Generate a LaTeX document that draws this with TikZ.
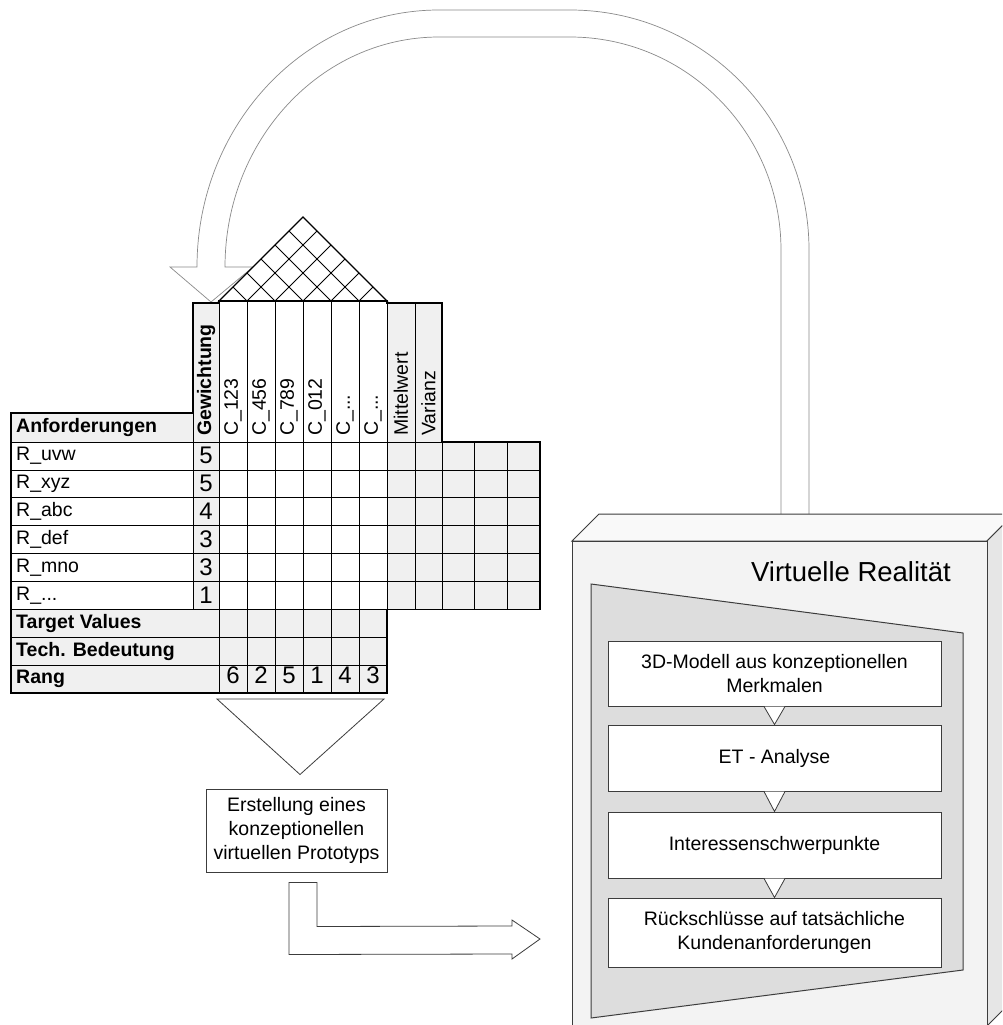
\documentclass[tikz,border=0pt]{standalone}
\usepackage{fontspec}
\setmainfont{Liberation Sans}
\usetikzlibrary{calc}
\definecolor{cellgrey}{HTML}{F0F0F0}
\definecolor{arrowline}{HTML}{8A8A8A}
\definecolor{boxfront}{HTML}{F3F3F3}
\definecolor{boxtop}{HTML}{F9F9F9}
\definecolor{boxside}{HTML}{E6E6E6}
\definecolor{panelgrey}{HTML}{DDDDDD}
\definecolor{edgegrey}{HTML}{3C3C3C}
\newcommand{\tripledot}{...}
\begin{document}
\begin{tikzpicture}[x=1pt,y=-1pt,
  every node/.style={font=\fontsize{19.5}{24}\selectfont, inner sep=0pt},
  thin grid/.style={draw=black, line width=0.8pt},
  thick frame/.style={draw=black, line width=1.4pt},
  greycell/.style={fill=cellgrey},
  blockarrow/.style={draw=arrowline, line width=0.7pt, fill=white},
  flatarrow/.style={draw=edgegrey, line width=0.8pt, fill=white},
  hdr/.style={rotate=90, anchor=west},
  lbl/.style={anchor=west},
  boldlbl/.style={anchor=west, font=\fontsize{19.5}{24}\selectfont\bfseries},
  digit/.style={anchor=base, font=\fontsize{24}{28}\selectfont},
  stepbox/.style={draw=edgegrey, line width=1pt, fill=white, minimum width=333pt, align=center},
  notch/.style={fill=white},
  notchline/.style={draw=edgegrey, line width=0.8pt}]

% canvas
\useasboundingbox (0,0) rectangle (1002,1025);
\clip (0,0) rectangle (1002,1025);
\fill[white] (0,0) rectangle (1002,1025);

% ---------- curved return arrow ----------
\path[blockarrow]
  (197,267) .. controls (197,125) and (305,10) .. (439,10)
  -- (570,10) .. controls (702,10) and (809,117) .. (809,250)
  -- (809,522) -- (781,522) -- (781,250)
  .. controls (781,132) and (686,37) .. (570,37)
  -- (439,37) .. controls (321,37) and (225,140) .. (225,267)
  -- (253,267) -- (211,302) -- (170,267) -- cycle;

% ---------- house of quality ----------
% cell fills
\fill[greycell] (11,413) rectangle (193,442);
\fill[white] (11,442) rectangle (193,609.4);
\fill[greycell] (193,303) rectangle (219,609.4);
\fill[white] (219,301) rectangle (387,609.4);
\fill[greycell] (11,609.4) rectangle (387,693);
\fill[greycell] (387,303) rectangle (442,609.4);
\fill[greycell] (442,442) rectangle (540,609.4);

% roof
\filldraw[fill=white, draw=black, line width=1.2pt] (219,301) -- (303,217) -- (387,301) -- cycle;
\foreach \i in {1,...,5}{
  \pgfmathsetmacro{\b}{219+28*\i}
  \draw[thin grid] ({(219+\b)/2},{301-(\b-219)/2}) -- (\b,301) -- ({(\b+387)/2},{301-(387-\b)/2});
}

% horizontal rules
\foreach \k in {0,...,5}{
  \pgfmathsetmacro{\yy}{442+27.9*\k}
  \draw[thin grid] (11,\yy) -- (540,\yy);
}
\draw[thin grid] (11,609.4) -- (540,609.4);
\draw[thin grid] (11,637.3) -- (387,637.3);
\draw[thin grid] (11,665.2) -- (387,665.2);
\draw[thin grid] (193,303) -- (219,303);
\draw[thin grid] (219,301) -- (387,301);
\draw[thin grid] (387,303) -- (442,303);

% vertical rules
\draw[thin grid] (193,303) -- (193,609.4);
\foreach \xx in {219,247,275,303,331,359,387}{
  \draw[thin grid] (\xx,301) -- (\xx,693);
}
\draw[thin grid] (415,303) -- (415,609.4);
\draw[thin grid] (442,303) -- (442,609.4);
\draw[thin grid] (474.7,442) -- (474.7,609.4);
\draw[thin grid] (507.3,442) -- (507.3,609.4);

% outline
\draw[thick frame] (11,413) -- (193,413) -- (193,303) -- (219,303) -- (219,301)
  -- (387,301) -- (387,303) -- (442,303) -- (442,442) -- (540,442)
  -- (540,609.4) -- (387,609.4) -- (387,693) -- (11,693) -- cycle;

% column headings
\node[hdr, font=\fontsize{19.5}{24}\selectfont\bfseries] (hgew) at (206,436) {Gewichtung};
\foreach \t [count=\c from 0] in {C\_123,C\_456,C\_789,C\_012,C\_\tripledot,C\_\tripledot}{
  \node[hdr] (hc\c) at ({233+28*\c},436) {\t};
}
\node[hdr] (hmit) at (401,436) {Mittelwert};
\node[hdr] (hvar) at (428.5,436) {Varianz};

% row labels and weights
\node[boldlbl] (anf) at (16,427.5) {Anforderungen};
\foreach \r/\w [count=\k from 0] in {R\_uvw/5,R\_xyz/5,R\_abc/4,R\_def/3,R\_mno/3,R\_\tripledot/1}{
  \node[lbl] (r\k) at (16,{442+27.9*\k+13.95}) {\r};
  \node[digit] (w\k) at (206,{442+27.9*\k+21.5}) {\w};
}
\node[boldlbl] (tv) at (16,623.35) {Target Values};
\node[boldlbl] (tb) at (16,651.25) {Tech. Bedeutung};
\node[boldlbl] (rang) at (16,679.1) {Rang};
\foreach \n [count=\c from 0] in {6,2,5,1,4,3}{
  \node[digit] (rk\c) at ({233+28*\c},683.5) {\n};
}
\coordinate (tablefoot) at (303,693);

% ---------- funnel and prototype ----------
\node[draw=edgegrey, line width=1pt, fill=white, minimum width=181pt, minimum height=83pt, align=center]
  (proto) at (296.5,830.5) {Erstellung eines\\konzeptionellen\\virtuellen Prototyps};
\path[flatarrow] ($(tablefoot)+(-86,6)$) -- ($(tablefoot)+(81,6)$) -- ($(proto.north)+(3.5,-14)$) -- cycle;

\path[flatarrow] ($(proto.south)+(-7.5,10)$) -- ($(proto.south)+(20.5,10)$) -- ($(proto.south)+(20.5,54)$)
  -- (512,926) -- (512,920) -- (540,939) -- (512,959) -- (512,954)
  -- ($(proto.south)+(-7.5,82)$) -- cycle;

% ---------- virtual reality block ----------
\filldraw[fill=boxtop, draw=edgegrey, line width=1pt] (572,541) -- (599,514) -- (1014,514) -- (987,541) -- cycle;
\filldraw[fill=boxside, draw=edgegrey, line width=1pt] (987,541) -- (1014,514) -- (1014,999) -- (987,1026) -- cycle;
\filldraw[fill=boxfront, draw=edgegrey, line width=1pt] (572,541) rectangle (987,1040);
\filldraw[fill=panelgrey, draw=edgegrey, line width=1pt] (591,584) -- (963,633) -- (963,970) -- (591,1018) -- cycle;
\node[anchor=east, font=\fontsize{27.5}{32}\selectfont] (vr) at (951,572) {Virtuelle Realität};

\node[stepbox, minimum height=65pt] (m1) at (774.5,673.5) {3D-Modell aus konzeptionellen\\Merkmalen};
\node[stepbox, minimum height=66pt] (m2) at (774.5,758) {ET - Analyse};
\node[stepbox, minimum height=66pt] (m3) at (774.5,845) {Interessenschwerpunkte};
\node[stepbox, minimum height=69pt] (m4) at (774.5,932.5) {Rückschlüsse auf tatsächliche\\Kundenanforderungen};

\foreach \a/\b in {m1/m2,m2/m3,m3/m4}{
  \fill[notch] ($(\a.south)+(-10,0)$) -- (\b.north) -- ($(\a.south)+(10,0)$) -- cycle;
  \draw[notchline] ($(\a.south)+(-10.5,0)$) -- (\b.north) -- ($(\a.south)+(10.5,0)$);
}
\end{tikzpicture}
\end{document}
